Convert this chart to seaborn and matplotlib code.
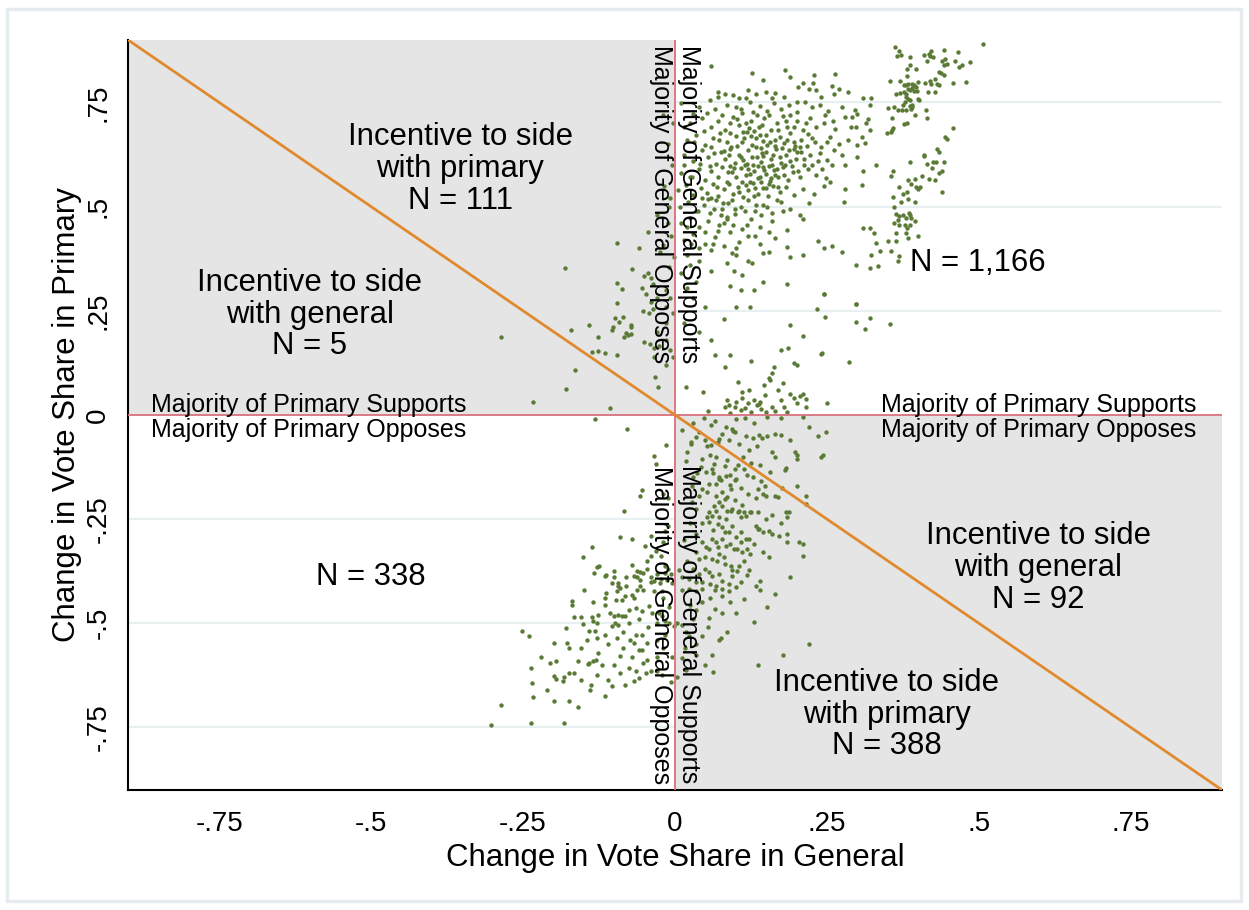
import pandas as pd
import matplotlib.pyplot as plt
import seaborn as sns
from matplotlib.patches import Rectangle

# Points: (change in general, change in primary)
# main cloud, general supports / primary supports
upper_main = [
    (0.06, 0.837), (0.126, 0.82), (0.181, 0.829), (0.229, 0.817), (0.263, 0.819), (0.19, 0.81), (0.145, 0.805),
    (0.071, 0.776), (0.071, 0.764), (0.12, 0.779), (0.133, 0.771), (0.15, 0.775), (0.165, 0.772), (0.203, 0.787),
    (0.211, 0.797), (0.22, 0.783), (0.227, 0.797), (0.232, 0.78), (0.258, 0.79), (0.262, 0.77), (0.27, 0.783),
    (0.285, 0.775), (0.117, 0.76), (0.095, 0.768), (0.18, 0.762), (0.24, 0.762),
    (0.04, 0.74), (0.066, 0.735), (0.085, 0.745), (0.1, 0.738), (0.11, 0.725), (0.123, 0.75), (0.14, 0.742),
    (0.152, 0.73), (0.163, 0.748), (0.175, 0.735), (0.188, 0.745), (0.2, 0.728), (0.214, 0.752), (0.225, 0.738),
    (0.238, 0.745), (0.252, 0.73), (0.274, 0.74), (0.296, 0.732), (0.03, 0.722), (0.135, 0.72), (0.19, 0.72),
    (0.01, 0.748),
    (0.025, 0.7), (0.045, 0.712), (0.06, 0.69), (0.07, 0.705), (0.082, 0.685), (0.095, 0.715), (0.105, 0.695),
    (0.112, 0.68), (0.125, 0.705), (0.138, 0.69), (0.147, 0.712), (0.158, 0.684), (0.168, 0.7), (0.177, 0.717),
    (0.185, 0.69), (0.2, 0.705), (0.21, 0.685), (0.222, 0.712), (0.232, 0.69), (0.245, 0.7), (0.263, 0.686),
    (0.28, 0.715), (0.13, 0.682), (0.015, 0.69), (0.102, 0.71), (0.315, 0.7), (0.29, 0.69),
    (0.02, 0.66), (0.035, 0.672), (0.05, 0.648), (0.063, 0.665), (0.074, 0.676), (0.085, 0.655), (0.092, 0.642),
    (0.1, 0.67), (0.11, 0.655), (0.118, 0.678), (0.126, 0.648), (0.133, 0.665), (0.141, 0.64), (0.149, 0.672),
    (0.156, 0.655), (0.165, 0.645), (0.172, 0.668), (0.18, 0.652), (0.19, 0.676), (0.198, 0.645), (0.208, 0.66),
    (0.218, 0.675), (0.23, 0.655), (0.24, 0.642), (0.255, 0.668), (0.27, 0.65), (0.06, 0.642), (0.125, 0.67),
    (0.145, 0.657), (0.205, 0.642), (0.225, 0.665),
    (0.015, 0.625), (0.03, 0.61), (0.045, 0.635), (0.055, 0.618), (0.068, 0.602), (0.075, 0.63), (0.083, 0.615),
    (0.09, 0.638), (0.098, 0.605), (0.105, 0.625), (0.112, 0.612), (0.12, 0.635), (0.128, 0.6), (0.135, 0.62),
    (0.142, 0.608), (0.15, 0.632), (0.158, 0.615), (0.166, 0.638), (0.174, 0.605), (0.182, 0.625), (0.19, 0.61),
    (0.2, 0.63), (0.212, 0.615), (0.225, 0.6), (0.238, 0.628), (0.25, 0.612), (0.262, 0.635), (0.088, 0.625),
    (0.115, 0.6), (0.16, 0.6), (0.145, 0.622), (0.195, 0.638),
    (0.01, 0.58), (0.025, 0.572), (0.04, 0.59), (0.05, 0.565), (0.06, 0.585), (0.07, 0.57), (0.078, 0.595),
    (0.086, 0.56), (0.094, 0.582), (0.1, 0.57), (0.108, 0.592), (0.116, 0.575), (0.123, 0.56), (0.13, 0.585),
    (0.137, 0.568), (0.144, 0.595), (0.15, 0.578), (0.157, 0.562), (0.163, 0.588), (0.17, 0.572), (0.178, 0.594),
    (0.186, 0.565), (0.194, 0.582), (0.205, 0.57), (0.218, 0.59), (0.232, 0.575), (0.248, 0.568), (0.11, 0.56),
    (0.14, 0.57), (0.165, 0.575), (0.12, 0.59), (0.09, 0.598),
    (0.005, 0.54), (0.018, 0.552), (0.03, 0.528), (0.042, 0.545), (0.052, 0.532), (0.062, 0.555), (0.071, 0.525),
    (0.08, 0.542), (0.088, 0.555), (0.096, 0.53), (0.104, 0.548), (0.112, 0.522), (0.12, 0.54), (0.128, 0.556),
    (0.136, 0.53), (0.145, 0.545), (0.153, 0.525), (0.162, 0.55), (0.172, 0.535), (0.183, 0.548), (0.196, 0.528),
    (0.21, 0.543), (0.228, 0.53), (0.13, 0.525), (0.155, 0.555), (0.06, 0.52), (0.245, 0.55),
    (0.008, 0.5), (0.022, 0.512), (0.035, 0.49), (0.047, 0.505), (0.058, 0.485), (0.068, 0.515), (0.077, 0.495),
    (0.087, 0.508), (0.098, 0.482), (0.108, 0.5), (0.12, 0.515), (0.132, 0.49), (0.145, 0.505), (0.16, 0.485),
    (0.175, 0.51), (0.19, 0.495), (0.205, 0.48), (0.22, 0.508), (0.075, 0.48), (0.115, 0.49), (0.055, 0.518),
    (0.01, 0.46), (0.025, 0.472), (0.04, 0.45), (0.055, 0.465), (0.07, 0.442), (0.085, 0.475), (0.095, 0.455),
    (0.11, 0.447), (0.125, 0.47), (0.14, 0.452), (0.16, 0.465), (0.185, 0.445), (0.21, 0.47), (0.05, 0.44),
    (0.08, 0.46),
    (0.015, 0.42), (0.03, 0.435), (0.05, 0.41), (0.065, 0.428), (0.08, 0.405), (0.09, 0.438), (0.105, 0.415),
    (0.12, 0.43), (0.14, 0.41), (0.165, 0.425), (0.185, 0.402), (0.235, 0.418), (0.04, 0.4), (0.1, 0.4),
    (0.02, 0.385), (0.04, 0.37), (0.06, 0.395), (0.085, 0.365), (0.1, 0.385), (0.12, 0.37), (0.155, 0.392),
    (0.19, 0.38), (0.025, 0.36), (0.275, 0.39), (0.093, 0.389), (0.127, 0.365), (0.144, 0.389),
    (0.01, 0.34), (0.035, 0.32), (0.06, 0.345), (0.09, 0.31), (0.11, 0.335), (0.13, 0.3), (0.145, 0.32),
    (0.185, 0.315), (0.02, 0.305), (0.245, 0.29), (0.233, 0.254), (0.097, 0.345), (0.108, 0.301),
    (0.03, 0.28), (0.05, 0.26), (0.08, 0.23), (0.1, 0.26), (0.124, 0.26), (0.015, 0.22), (0.19, 0.215),
    (0.04, 0.2), (0.247, 0.236), (0.06, 0.18), (0.066, 0.144), (0.09, 0.144), (0.082, 0.116), (0.175, 0.155),
    (0.186, 0.16), (0.211, 0.19), (0.242, 0.148), (0.287, 0.128), (0.211, 0.383), (0.258, 0.405), (0.245, 0.401),
]

# densest part of the main cloud
upper_core = [
    (0.032, 0.655), (0.041, 0.602), (0.048, 0.682), (0.057, 0.598), (0.064, 0.628), (0.069, 0.548), (0.073, 0.66),
    (0.079, 0.508), (0.081, 0.633), (0.087, 0.582), (0.091, 0.676), (0.093, 0.515), (0.097, 0.592), (0.102, 0.645),
    (0.106, 0.535), (0.109, 0.618), (0.113, 0.665), (0.117, 0.552), (0.119, 0.603), (0.122, 0.688), (0.124, 0.578),
    (0.127, 0.62), (0.131, 0.545), (0.134, 0.642), (0.137, 0.597), (0.139, 0.672), (0.141, 0.56), (0.143, 0.628),
    (0.147, 0.588), (0.149, 0.545), (0.152, 0.648), (0.154, 0.598), (0.158, 0.568), (0.161, 0.625), (0.164, 0.66),
    (0.167, 0.59), (0.169, 0.548), (0.172, 0.618), (0.176, 0.64), (0.179, 0.575), (0.181, 0.6), (0.184, 0.66),
    (0.187, 0.635), (0.192, 0.598), (0.196, 0.655), (0.199, 0.615), (0.203, 0.585), (0.207, 0.63), (0.213, 0.6),
    (0.217, 0.645), (0.222, 0.625), (0.134, 0.505), (0.142, 0.48), (0.152, 0.5), (0.168, 0.515), (0.178, 0.49),
    (0.099, 0.495), (0.086, 0.47), (0.064, 0.495), (0.044, 0.52), (0.028, 0.57), (0.014, 0.6), (0.038, 0.49),
    (0.02, 0.45), (0.072, 0.455), (0.118, 0.455), (0.132, 0.43), (0.155, 0.44), (0.062, 0.41), (0.026, 0.41),
    (0.053, 0.725), (0.078, 0.72), (0.09, 0.7), (0.108, 0.735), (0.117, 0.7), (0.143, 0.695), (0.155, 0.72),
    (0.17, 0.685), (0.195, 0.69), (0.215, 0.7), (0.183, 0.705), (0.128, 0.728), (0.16, 0.76), (0.2, 0.75),
    (0.105, 0.76), (0.082, 0.77), (0.058, 0.755), (0.246, 0.72), (0.26, 0.705), (0.25, 0.655), (0.235, 0.61),
    (0.242, 0.59), (0.258, 0.6), (0.275, 0.625), (0.285, 0.66), (0.3, 0.648),
]

# right-hand cloud, large gains in both
upper_right = [
    (0.362, 0.883), (0.369, 0.873), (0.365, 0.862), (0.371, 0.863), (0.387, 0.859), (0.41, 0.865), (0.418, 0.866),
    (0.421, 0.874), (0.424, 0.859), (0.42, 0.861), (0.442, 0.877), (0.466, 0.871), (0.506, 0.89), (0.414, 0.85),
    (0.439, 0.85), (0.445, 0.855), (0.447, 0.843), (0.443, 0.839), (0.46, 0.85), (0.468, 0.836), (0.472, 0.839),
    (0.485, 0.848), (0.387, 0.839), (0.381, 0.83), (0.397, 0.831), (0.382, 0.813), (0.435, 0.823), (0.442, 0.817),
    (0.438, 0.82), (0.353, 0.801), (0.37, 0.801), (0.376, 0.793), (0.38, 0.791), (0.384, 0.795), (0.39, 0.795),
    (0.393, 0.793), (0.4, 0.8), (0.411, 0.797), (0.42, 0.801), (0.421, 0.795), (0.427, 0.807), (0.431, 0.795),
    (0.434, 0.793), (0.457, 0.797), (0.479, 0.799), (0.383, 0.782), (0.387, 0.779), (0.393, 0.778), (0.398, 0.778),
    (0.39, 0.785), (0.396, 0.786), (0.363, 0.771), (0.37, 0.772), (0.38, 0.77), (0.376, 0.774), (0.416, 0.775),
    (0.428, 0.775), (0.38, 0.763), (0.383, 0.758), (0.386, 0.755), (0.378, 0.752), (0.375, 0.745), (0.386, 0.742),
    (0.39, 0.74), (0.399, 0.759), (0.402, 0.755), (0.31, 0.76), (0.322, 0.76), (0.32, 0.743), (0.299, 0.723),
    (0.292, 0.714), (0.317, 0.711), (0.298, 0.69), (0.32, 0.684), (0.308, 0.666), (0.313, 0.653), (0.35, 0.736),
    (0.36, 0.739), (0.367, 0.731), (0.374, 0.732), (0.38, 0.731), (0.388, 0.735), (0.39, 0.745), (0.413, 0.731),
    (0.414, 0.713), (0.357, 0.713), (0.377, 0.699), (0.381, 0.7), (0.395, 0.719), (0.348, 0.676), (0.355, 0.678),
    (0.357, 0.685), (0.359, 0.689), (0.458, 0.688), (0.445, 0.666), (0.448, 0.662),
    (0.431, 0.638), (0.434, 0.63), (0.41, 0.624), (0.424, 0.608), (0.429, 0.608), (0.443, 0.608), (0.415, 0.602),
    (0.423, 0.593), (0.435, 0.58), (0.387, 0.606), (0.356, 0.573), (0.383, 0.563), (0.395, 0.567), (0.406, 0.574),
    (0.418, 0.566), (0.427, 0.563), (0.41, 0.622), (0.44, 0.586), (0.388, 0.554), (0.358, 0.586),
    (0.369, 0.546), (0.375, 0.53), (0.381, 0.534), (0.384, 0.518), (0.372, 0.51), (0.397, 0.546), (0.4, 0.543),
    (0.403, 0.547), (0.364, 0.483), (0.369, 0.477), (0.375, 0.481), (0.38, 0.473), (0.385, 0.485), (0.387, 0.481),
    (0.389, 0.473), (0.386, 0.457), (0.381, 0.449), (0.378, 0.457), (0.369, 0.457), (0.361, 0.461), (0.367, 0.469),
    (0.395, 0.465), (0.4, 0.429), (0.364, 0.437), (0.38, 0.437), (0.384, 0.425), (0.363, 0.417), (0.35, 0.417),
    (0.356, 0.393), (0.369, 0.381), (0.367, 0.369), (0.439, 0.534), (0.395, 0.51), (0.358, 0.522), (0.36, 0.5),
]

# sparse points between the two clouds
upper_between = [
    (0.32, 0.449), (0.309, 0.449), (0.328, 0.437), (0.331, 0.413), (0.323, 0.385), (0.337, 0.393), (0.32, 0.353),
    (0.334, 0.357), (0.298, 0.361), (0.28, 0.542), (0.278, 0.512), (0.307, 0.552), (0.255, 0.56), (0.298, 0.267),
    (0.298, 0.222), (0.313, 0.207), (0.32, 0.232), (0.353, 0.218), (0.297, 0.266), (0.245, 0.29), (0.31, 0.585),
    (0.33, 0.6), (0.3, 0.62), (0.28, 0.6),
]

# small cloud just above zero
upper_low = [
    (0.018, 0.068), (0.046, 0.055), (0.104, 0.078), (0.111, 0.055), (0.122, 0.06), (0.147, 0.072), (0.148, 0.047),
    (0.138, 0.027), (0.177, 0.077), (0.155, 0.088), (0.156, 0.085), (0.16, 0.1), (0.163, 0.116), (0.125, 0.129),
    (0.196, 0.124), (0.201, 0.12), (0.241, 0.146), (0.19, 0.05), (0.195, 0.04), (0.205, 0.045), (0.21, 0.05),
    (0.215, 0.038), (0.25, 0.028), (0.085, 0.035), (0.088, 0.025), (0.082, 0.018), (0.1, 0.03), (0.098, 0.02),
    (0.108, 0.012), (0.115, 0.016), (0.12, 0.028), (0.13, 0.035), (0.135, 0.025), (0.14, 0.03), (0.142, 0.015),
    (0.16, 0.018), (0.18, 0.02), (0.2, 0.028), (0.215, 0.02), (0.11, 0.04), (0.17, 0.06), (0.175, 0.035),
    (0.15, 0.008), (0.165, 0.01), (0.09, 0.005), (0.125, 0.008), (0.185, 0.008), (0.055, 0.01),
]

# general opposes, primary supports (grey, top left)
upper_left = [
    (-0.181, 0.353), (-0.071, 0.351), (-0.287, 0.188), (-0.096, 0.317), (-0.088, 0.302), (-0.095, 0.268),
    (-0.099, 0.232), (-0.092, 0.222), (-0.086, 0.235), (-0.102, 0.212), (-0.104, 0.203), (-0.142, 0.215),
    (-0.171, 0.204), (-0.126, 0.188), (-0.081, 0.196), (-0.084, 0.188), (-0.078, 0.192), (-0.073, 0.216),
    (-0.073, 0.21), (-0.072, 0.195), (-0.136, 0.15), (-0.126, 0.154), (-0.115, 0.148), (-0.096, 0.144),
    (-0.164, 0.108), (-0.18, 0.062), (-0.234, 0.03), (-0.107, 0.017), (-0.033, 0.09), (-0.028, 0.068),
    (-0.095, 0.413), (-0.059, 0.401),
    (-0.051, 0.333), (-0.045, 0.34), (-0.04, 0.328), (-0.037, 0.315), (-0.054, 0.305), (-0.048, 0.29),
    (-0.04, 0.27), (-0.037, 0.255), (-0.052, 0.25), (-0.043, 0.245), (-0.03, 0.28), (-0.015, 0.26),
    (-0.008, 0.28), (-0.004, 0.245), (-0.015, 0.22), (-0.015, 0.18), (-0.027, 0.165), (-0.008, 0.155),
    (-0.004, 0.14), (-0.035, 0.14), (-0.015, 0.12), (-0.051, 0.175), (-0.041, 0.17), (-0.034, 0.16),
    (-0.015, 0.3), (-0.03, 0.2), (-0.02, 0.409), (-0.025, 0.39), (-0.045, 0.44), (-0.012, 0.46),
    (-0.008, 0.52), (-0.018, 0.55), (-0.005, 0.6), (-0.012, 0.65), (-0.004, 0.7), (-0.02, 0.72),
    (-0.01, 0.5), (-0.006, 0.43), (-0.03, 0.48), (-0.002, 0.38), (-0.01, 0.355),
]

# general supports, primary opposes (grey, bottom right)
lower_right = [
    (0.048, -0.007), (0.059, -0.025), (0.084, -0.029), (0.093, -0.033), (0.096, -0.038), (0.1, -0.01),
    (0.115, -0.008), (0.13, -0.02), (0.152, -0.004), (0.174, -0.008), (0.21, -0.004), (0.098, -0.04),
    (0.116, -0.05), (0.128, -0.055), (0.138, -0.047), (0.143, -0.055), (0.152, -0.05), (0.165, -0.045),
    (0.174, -0.047), (0.236, -0.05), (0.012, -0.037), (0.026, -0.069), (0.034, -0.053), (0.05, -0.06),
    (0.053, -0.075), (0.06, -0.072), (0.07, -0.065), (0.072, -0.057), (0.02, -0.089), (0.042, -0.125),
    (0.067, -0.1), (0.064, -0.118), (0.085, -0.108), (0.082, -0.122), (0.098, -0.13), (0.104, -0.12),
    (0.09, -0.143), (0.072, -0.15), (0.075, -0.155), (0.098, -0.155), (0.113, -0.13), (0.118, -0.143),
    (0.129, -0.148), (0.142, -0.158), (0.148, -0.17), (0.136, -0.178), (0.145, -0.19), (0.15, -0.195),
    (0.165, -0.195), (0.17, -0.198), (0.176, -0.175), (0.182, -0.128), (0.156, -0.138), (0.197, -0.088),
    (0.2, -0.105), (0.243, -0.095), (0.215, -0.195), (0.182, -0.232), (0.188, -0.232), (0.248, -0.041),
    (0.241, -0.101), (0.201, -0.097), (0.181, -0.133), (0.215, -0.214), (0.185, -0.246), (0.21, -0.31),
    (0.185, -0.286), (0.045, -0.178), (0.053, -0.186), (0.067, -0.194), (0.072, -0.21), (0.083, -0.202),
    (0.085, -0.23), (0.067, -0.23), (0.056, -0.234), (0.053, -0.246), (0.072, -0.246), (0.094, -0.226),
    (0.105, -0.23), (0.114, -0.234), (0.108, -0.246), (0.116, -0.242), (0.124, -0.234), (0.133, -0.266),
    (0.138, -0.274), (0.144, -0.282), (0.155, -0.278), (0.16, -0.286), (0.171, -0.29), (0.185, -0.306),
    (0.204, -0.306), (0.21, -0.338), (0.155, -0.342), (0.094, -0.266), (0.089, -0.282), (0.1, -0.294),
    (0.108, -0.306), (0.102, -0.322), (0.116, -0.298), (0.119, -0.322), (0.124, -0.334), (0.083, -0.282),
    (0.078, -0.298), (0.067, -0.306), (0.056, -0.322), (0.05, -0.342), (0.061, -0.346), (0.069, -0.35),
    (0.083, -0.358), (0.092, -0.362), (0.102, -0.374), (0.094, -0.386), (0.072, -0.382), (0.061, -0.386),
    (0.058, -0.406), (0.045, -0.402), (0.067, -0.41), (0.078, -0.418), (0.089, -0.422), (0.1, -0.414),
    (0.133, -0.41), (0.051, -0.137), (0.061, -0.129), (0.072, -0.154), (0.067, -0.166), (0.084, -0.146),
    (0.092, -0.178), (0.1, -0.154), (0.078, -0.186), (0.086, -0.198), (0.056, -0.166), (0.04, -0.194),
    (0.064, -0.218), (0.078, -0.218), (0.092, -0.23), (0.103, -0.234), (0.125, -0.234), (0.136, -0.234),
    (0.061, -0.242), (0.056, -0.258), (0.07, -0.262), (0.084, -0.25), (0.108, -0.282), (0.122, -0.298),
    (0.136, -0.274), (0.061, -0.298), (0.045, -0.306), (0.051, -0.318), (0.07, -0.318), (0.084, -0.314),
    (0.097, -0.322), (0.111, -0.33), (0.072, -0.334), (0.034, -0.33), (0.04, -0.346), (0.105, -0.362),
    (0.0066, -0.371), (0.012, -0.39), (0.023, -0.393), (0.039, -0.382), (0.056, -0.378), (0.066, -0.42),
    (0.077, -0.398), (0.088, -0.406), (0.094, -0.371), (0.108, -0.402), (0.122, -0.371), (0.139, -0.398),
    (0.139, -0.42), (0.012, -0.42), (0.023, -0.418), (0.034, -0.422), (0.045, -0.418), (0.077, -0.434),
    (0.09, -0.45), (0.114, -0.442), (0.045, -0.45), (0.034, -0.467), (0.056, -0.487), (0.077, -0.475),
    (0.085, -0.52), (0.072, -0.54), (0.075, -0.535), (0.045, -0.53), (0.012, -0.505), (0.018, -0.52),
    (0.023, -0.53), (0.004, -0.5), (0.012, -0.584), (0.034, -0.576), (0.061, -0.576), (0.063, -0.616),
    (0.018, -0.612), (0.003, -0.63), (0.152, -0.46), (0.13, -0.497), (0.177, -0.576), (0.22, -0.55),
    (0.136, -0.6), (0.19, -0.39), (0.165, -0.43), (0.026, -0.065), (0.018, -0.11), (0.03, -0.15),
    (0.025, -0.26), (0.015, -0.3), (0.028, -0.21),
    (0.03, -0.02), (0.04, -0.04), (0.065, -0.015), (0.078, -0.045), (0.088, -0.06), (0.105, -0.07),
    (0.122, -0.085), (0.135, -0.075), (0.16, -0.09), (0.112, -0.1), (0.125, -0.115), (0.14, -0.12),
    (0.058, -0.095), (0.045, -0.105), (0.036, -0.14), (0.028, -0.17), (0.062, -0.14), (0.09, -0.168),
    (0.108, -0.175), (0.12, -0.19), (0.133, -0.2), (0.098, -0.205), (0.11, -0.215), (0.035, -0.225),
    (0.045, -0.26), (0.078, -0.268), (0.063, -0.275), (0.035, -0.285), (0.09, -0.31), (0.13, -0.31),
    (0.145, -0.33), (0.02, -0.35), (0.03, -0.37), (0.08, -0.34), (0.113, -0.35), (0.118, -0.385),
    (0.05, -0.37), (0.035, -0.4), (0.058, -0.44), (0.025, -0.455), (0.065, -0.465), (0.1, -0.475),
    (0.03, -0.49), (0.055, -0.51), (0.035, -0.55), (0.016, -0.56), (0.05, -0.6), (0.165, -0.1),
    (0.19, -0.06), (0.22, -0.03), (0.2, -0.17), (0.16, -0.24), (0.175, -0.26), (0.15, -0.25),
]

# general opposes, primary opposes (white, bottom left)
lower_left = [
    (-0.128, -0.364), (-0.133, -0.38), (-0.115, -0.386), (-0.1, -0.374), (-0.101, -0.39), (-0.093, -0.403),
    (-0.09, -0.415), (-0.096, -0.423), (-0.08, -0.411), (-0.068, -0.387), (-0.063, -0.39), (-0.057, -0.378),
    (-0.046, -0.37), (-0.04, -0.39), (-0.035, -0.398), (-0.029, -0.382), (-0.024, -0.403), (-0.016, -0.379),
    (-0.013, -0.395), (-0.007, -0.382), (-0.005, -0.403), (-0.021, -0.423), (-0.035, -0.423), (-0.052, -0.419),
    (-0.063, -0.419), (-0.071, -0.431), (-0.068, -0.439), (-0.082, -0.435), (-0.113, -0.427), (-0.115, -0.439),
    (-0.097, -0.443), (-0.087, -0.443), (-0.169, -0.447), (-0.17, -0.455), (-0.166, -0.485), (-0.154, -0.485),
    (-0.136, -0.485), (-0.126, -0.479), (-0.135, -0.495), (-0.129, -0.499), (-0.107, -0.475), (-0.101, -0.483),
    (-0.093, -0.479), (-0.088, -0.483), (-0.082, -0.483), (-0.076, -0.467), (-0.065, -0.463), (-0.054, -0.471),
    (-0.043, -0.459), (-0.038, -0.475), (-0.027, -0.475), (-0.021, -0.483), (-0.016, -0.495), (-0.01, -0.499),
    (-0.002, -0.507), (-0.098, -0.499), (-0.104, -0.507), (-0.093, -0.503), (-0.115, -0.527), (-0.096, -0.535),
    (-0.074, -0.539), (-0.065, -0.529), (-0.054, -0.527), (-0.016, -0.527), (-0.142, -0.519), (-0.131, -0.519),
    (-0.128, -0.535), (-0.151, -0.501), (-0.18, -0.511), (-0.199, -0.547), (-0.177, -0.547), (-0.174, -0.559),
    (-0.126, -0.571), (-0.135, -0.591), (-0.141, -0.595), (-0.13, -0.587), (-0.143, -0.598), (-0.205, -0.595),
    (-0.196, -0.591), (-0.199, -0.627), (-0.196, -0.633), (-0.182, -0.629), (-0.185, -0.639), (-0.174, -0.619),
    (-0.166, -0.619), (-0.154, -0.635), (-0.139, -0.647), (-0.128, -0.623), (-0.11, -0.635), (-0.104, -0.651),
    (-0.082, -0.647), (-0.068, -0.639), (-0.059, -0.631), (-0.065, -0.615), (-0.076, -0.607), (-0.09, -0.579),
    (-0.115, -0.675), (-0.174, -0.687), (-0.199, -0.687), (-0.237, -0.607), (-0.235, -0.643), (-0.234, -0.676),
    (-0.287, -0.696), (-0.302, -0.744), (-0.237, -0.739), (-0.182, -0.739), (-0.252, -0.519), (-0.24, -0.531),
    (-0.068, -0.547), (-0.06, -0.563), (-0.052, -0.596), (-0.046, -0.587), (-0.04, -0.615), (-0.029, -0.615),
    (-0.021, -0.623), (-0.048, -0.619), (-0.007, -0.64), (-0.046, -0.547), (-0.054, -0.563),
    (-0.015, -0.073), (-0.035, -0.099), (-0.032, -0.117), (-0.084, -0.23), (-0.054, -0.179), (-0.057, -0.195),
    (-0.02, -0.19), (-0.012, -0.2), (-0.09, -0.294), (-0.071, -0.297), (-0.136, -0.318), (-0.151, -0.341),
    (-0.125, -0.362), (-0.114, -0.385), (-0.103, -0.403), (-0.094, -0.41), (-0.07, -0.36), (-0.063, -0.375),
    (-0.057, -0.395), (-0.052, -0.38), (-0.046, -0.35), (-0.04, -0.338), (-0.032, -0.326), (-0.023, -0.338),
    (-0.02, -0.306), (-0.017, -0.278), (-0.012, -0.266), (-0.017, -0.362), (-0.012, -0.37), (-0.023, -0.394),
    (-0.04, -0.402), (-0.057, -0.41), (-0.049, -0.314), (-0.04, -0.29), (-0.132, -0.01), (-0.079, -0.033),
    (-0.075, -0.5), (-0.085, -0.52), (-0.06, -0.49), (-0.045, -0.51), (-0.03, -0.5), (-0.03, -0.54),
    (-0.02, -0.56), (-0.085, -0.56), (-0.11, -0.55), (-0.12, -0.6), (-0.1, -0.6), (-0.09, -0.62),
    (-0.155, -0.56), (-0.16, -0.59), (-0.145, -0.54), (-0.115, -0.455), (-0.135, -0.45), (-0.15, -0.42),
    (-0.08, -0.39), (-0.02, -0.44), (-0.01, -0.46), (-0.005, -0.58), (-0.03, -0.58), (-0.07, -0.58),
    (-0.14, -0.66), (-0.16, -0.7), (-0.21, -0.66), (-0.22, -0.58),
]

x_ticks = [-0.75, -0.5, -0.25, 0, 0.25, 0.5, 0.75]
x_tick_labels = ["-.75", "-.5", "-.25", "0", ".25", ".5", ".75"]
y_ticks = [-0.75, -0.5, -0.25, 0, 0.25, 0.5, 0.75]
y_tick_labels = ["-.75", "-.5", "-.25", "0", ".25", ".5", ".75"]
grid_y = [-0.75, -0.5, -0.25, 0.25, 0.5, 0.75]

groups = [upper_main, upper_core, upper_right, upper_between, upper_low, upper_left, lower_right, lower_left]
rows = [p for g in groups for p in g]
df = pd.DataFrame(rows, columns=["general", "primary"])

sns.set_style("white")
plt.rcParams['font.family'] = ['Liberation Sans', 'DejaVu Sans']
plt.rcParams.update({"text.color": "black", "axes.labelcolor": "black",
                     "xtick.color": "black", "ytick.color": "black"})

fig = plt.figure(figsize=(12.49, 9.10), dpi=100)
ax = fig.add_axes([0.1025, 0.1319, 0.8759, 0.8242])

# light grid lines, then the shaded quadrants on top of them
for gy in grid_y:
    ax.axhline(gy, color="#e8eff1", lw=1.6, zorder=0.5)
ax.fill_between([-0.9, 0], 0, 0.9, color="#e5e5e5", lw=0, zorder=1)
ax.fill_between([0, 0.9], -0.9, 0, color="#e5e5e5", lw=0, zorder=1)

sns.scatterplot(data=df, x="general", y="primary", color="#5a7a36", s=10,
                linewidth=0, ax=ax, zorder=3)

ax.axhline(0, color="#d9707e", lw=1.3, zorder=4)
ax.axvline(0, color="#d9707e", lw=1.3, zorder=4)
ax.plot([-0.9, 0.9], [0.9, -0.9], color="#e08a2d", lw=2, zorder=4)

ax.set_xlim(-0.9, 0.9)
ax.set_ylim(-0.9, 0.9)
ax.set_xticks(x_ticks)
ax.set_xticklabels(x_tick_labels, fontsize=20)
ax.set_yticks(y_ticks)
ax.set_yticklabels(y_tick_labels, fontsize=20, rotation=90, va="center")
ax.tick_params(direction="out", length=9, width=1.2, color="black")
ax.tick_params(axis="x", pad=6)
ax.tick_params(axis="y", pad=3)
ax.set_xlabel("Change in Vote Share in General", fontsize=22.5, va="center")
ax.set_ylabel("Change in Vote Share in Primary", fontsize=22.5, va="center")
ax.xaxis.set_label_coords(0.5, -0.0907)
ax.yaxis.set_label_coords(-0.056, 0.5)
sns.despine(ax=ax)
for s in ["left", "bottom"]:
    ax.spines[s].set_color("black")
    ax.spines[s].set_linewidth(1.5)

big = 22.4
small = 18
ls = 1.08
ax.text(-0.353, 0.59, "Incentive to side\nwith primary\nN = 111", fontsize=big, linespacing=ls,
        ha="center", va="center", zorder=5)
ax.text(-0.601, 0.241, "Incentive to side\nwith general\nN = 5", fontsize=big, linespacing=ls,
        ha="center", va="center", zorder=5)
ax.text(0.498, 0.364, "N = 1,166", fontsize=big, ha="center", va="center", zorder=5)
ax.text(-0.5, -0.39, "N = 338", fontsize=big, ha="center", va="center", zorder=5)
ax.text(0.598, -0.367, "Incentive to side\nwith general\nN = 92", fontsize=big, linespacing=ls,
        ha="center", va="center", zorder=5)
ax.text(0.348, -0.719, "Incentive to side\nwith primary\nN = 388", fontsize=big, linespacing=ls,
        ha="center", va="center", zorder=5)

ax.text(-0.862, 0.006, "Majority of Primary Supports", fontsize=small, ha="left", va="baseline", zorder=5)
ax.text(-0.862, -0.008, "Majority of Primary Opposes", fontsize=small, ha="left", va="top", zorder=5)
ax.text(0.858, 0.006, "Majority of Primary Supports", fontsize=small, ha="right", va="baseline", zorder=5)
ax.text(0.858, -0.008, "Majority of Primary Opposes", fontsize=small, ha="right", va="top", zorder=5)

ax.text(0.004, 0.887, "Majority of General Supports", fontsize=small, rotation=-90, ha="left", va="top", zorder=5)
ax.text(-0.004, 0.887, "Majority of General Opposes", fontsize=small, rotation=-90, ha="right", va="top", zorder=5)
ax.text(0.004, -0.885, "Majority of General Supports", fontsize=small, rotation=-90, ha="left", va="bottom", zorder=5)
ax.text(-0.004, -0.885, "Majority of General Opposes", fontsize=small, rotation=-90, ha="right", va="bottom", zorder=5)

# outer graph-region border
fig.patches.append(Rectangle((0.0056, 0.0099), 0.988, 0.980, transform=fig.transFigure,
                             fill=False, edgecolor="#e4ecee", lw=2.5))

fig.savefig("out.png", dpi=100)
